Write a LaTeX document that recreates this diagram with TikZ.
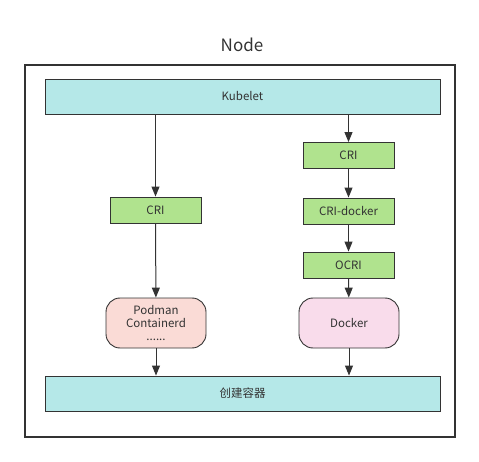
\documentclass[tikz,border=0pt]{standalone}
\usepackage{fontspec}
\setmainfont{Noto Sans CJK SC}
\usepackage{xcolor}
\usetikzlibrary{arrows.meta, positioning, calc}

\definecolor{barcyan}{HTML}{B5E8E8}
\definecolor{crigreen}{HTML}{B0E38E}
\definecolor{podpink}{HTML}{FADBD6}
\definecolor{dockpink}{HTML}{F9DCEB}
\definecolor{edgegray}{HTML}{333333}

\tikzset{
    bar/.style={draw=edgegray, fill=barcyan, minimum width=395pt, minimum height=35pt,
                font=\fontsize{11.5}{13}\selectfont, text=edgegray},
    cribox/.style={draw=edgegray, fill=crigreen, minimum width=91pt, minimum height=26pt,
                   font=\fontsize{11.5}{13}\selectfont, text=edgegray},
    runtime/.style={draw=edgegray, rounded corners=14pt, minimum width=100pt, minimum height=50pt,
                    align=center, font=\fontsize{11.5}{13}\selectfont, text=edgegray},
    flow/.style={draw=edgegray, line width=1pt, -{Triangle[length=10pt, width=8pt]}},
}

\begin{document}
\begin{tikzpicture}[x=1pt, y=-1pt, line width=0.9pt]
\useasboundingbox (0,0) rectangle (479,462);
%% outer frame and title
\draw[edgegray, line width=1.4pt] (25,65) rectangle (455,437);
\node[font=\fontsize{17}{20}\selectfont, text=edgegray] (title) at (242,45) {Node};

%% bars
\node[bar] (kubelet) at (242.5,96.5) {Kubelet};
\node[bar] (create) at (242.5,393.5) {创建容器};

%% left column
\node[cribox] (crileft) at (155.5,210) {CRI};
\node[runtime, fill=podpink] (podman) at (156,323) {Podman\\Containerd\\......};

%% right column
\node[cribox] (criright) at (348.5,155.5) {CRI};
\node[cribox] (cridocker) at (348.5,211) {CRI-docker};
\node[cribox] (ocri) at (348.5,265) {OCRI};
\node[runtime, fill=dockpink] (docker) at (349,323) {Docker};

%% connectors
\draw[flow] (kubelet.south -| crileft) -- (crileft);
\draw[flow] (crileft) -- (podman);
\draw[flow] (podman) -- (podman |- create.north);
\draw[flow] (kubelet.south -| criright) -- (criright);
\draw[flow] (criright) -- (cridocker);
\draw[flow] (cridocker) -- (ocri);
\draw[flow] (ocri) -- (docker);
\draw[flow] (docker) -- (docker |- create.north);
\end{tikzpicture}
\end{document}
